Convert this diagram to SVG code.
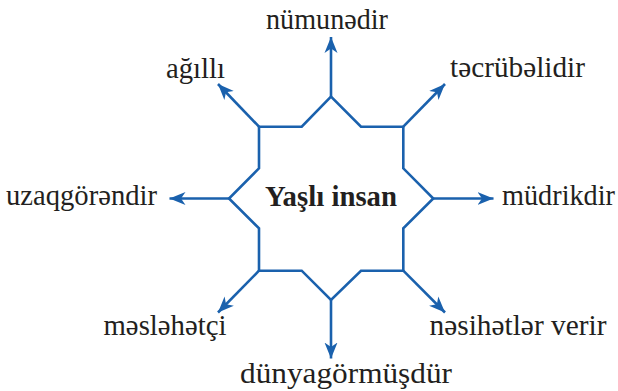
<svg xmlns="http://www.w3.org/2000/svg" width="618" height="391" viewBox="0 0 618 391">
<style>
.edge{fill:none;stroke:#1a61ad;stroke-width:2.6;stroke-linejoin:miter}
.lbl{font-family:'Liberation Serif','Times New Roman',serif;font-size:29px;fill:#231f20}
.ttl{font-family:'Liberation Serif','Times New Roman',serif;font-size:29px;font-weight:bold;fill:#231f20}
</style>
<defs>
<marker id="ah" markerUnits="userSpaceOnUse" markerWidth="18" markerHeight="14" refX="16" refY="6.5" orient="auto" viewBox="0 0 18 13">
<path d="M0,0 L16,6.5 L0,13 L4.5,6.5 Z" fill="#1a61ad"/>
</marker>
</defs>
<g id="center">
<path class="edge" d="M259,126.7 L301.7,126.7 L331,96.7 L361,126.7 L403.3,126.7 L403.3,168.3 L433.3,198.5 L403.3,228.3 L403.3,270.7 L361,270.7 L331,300 L301.7,270.7 L259,270.7 L259,228.3 L229,198.5 L259,168.3 Z"/>
<text class="ttl" x="331" y="206" text-anchor="middle" textLength="132" lengthAdjust="spacingAndGlyphs">Yaşlı insan</text>
</g>
<g id="connectors">
<line class="edge" x1="331" y1="96.7" x2="331" y2="37" marker-end="url(#ah)"/>
<line class="edge" x1="259" y1="126.7" x2="218" y2="84" marker-end="url(#ah)"/>
<line class="edge" x1="403.3" y1="126.7" x2="445" y2="84" marker-end="url(#ah)"/>
<line class="edge" x1="229" y1="198.5" x2="169.5" y2="198.5" marker-end="url(#ah)"/>
<line class="edge" x1="433.3" y1="198.5" x2="493.5" y2="198.5" marker-end="url(#ah)"/>
<line class="edge" x1="259" y1="270.7" x2="218" y2="312.5" marker-end="url(#ah)"/>
<line class="edge" x1="403.3" y1="270.7" x2="445" y2="312.5" marker-end="url(#ah)"/>
<line class="edge" x1="331" y1="300" x2="331" y2="358.5" marker-end="url(#ah)"/>
</g>
<g id="n-numunedir"><text class="lbl" x="266" y="28.5" textLength="122" lengthAdjust="spacingAndGlyphs">nümunədir</text></g>
<g id="n-agilli"><text class="lbl" x="166" y="77.5" textLength="59" lengthAdjust="spacingAndGlyphs">ağıllı</text></g>
<g id="n-tecrubelidir"><text class="lbl" x="450" y="77" textLength="135" lengthAdjust="spacingAndGlyphs">təcrübəlidir</text></g>
<g id="n-uzaqgorendir"><text class="lbl" x="6" y="205" textLength="151" lengthAdjust="spacingAndGlyphs">uzaqgörəndir</text></g>
<g id="n-mudrikdir"><text class="lbl" x="502" y="205" textLength="113" lengthAdjust="spacingAndGlyphs">müdrikdir</text></g>
<g id="n-meslehetci"><text class="lbl" x="103.5" y="335" textLength="123" lengthAdjust="spacingAndGlyphs">məsləhətçi</text></g>
<g id="n-nesihetler"><text class="lbl" x="429.5" y="335" textLength="177" lengthAdjust="spacingAndGlyphs">nəsihətlər verir</text></g>
<g id="n-dunyagormusdur"><text class="lbl" x="240" y="382.5" textLength="212" lengthAdjust="spacingAndGlyphs">dünyagörmüşdür</text></g>
</svg>
